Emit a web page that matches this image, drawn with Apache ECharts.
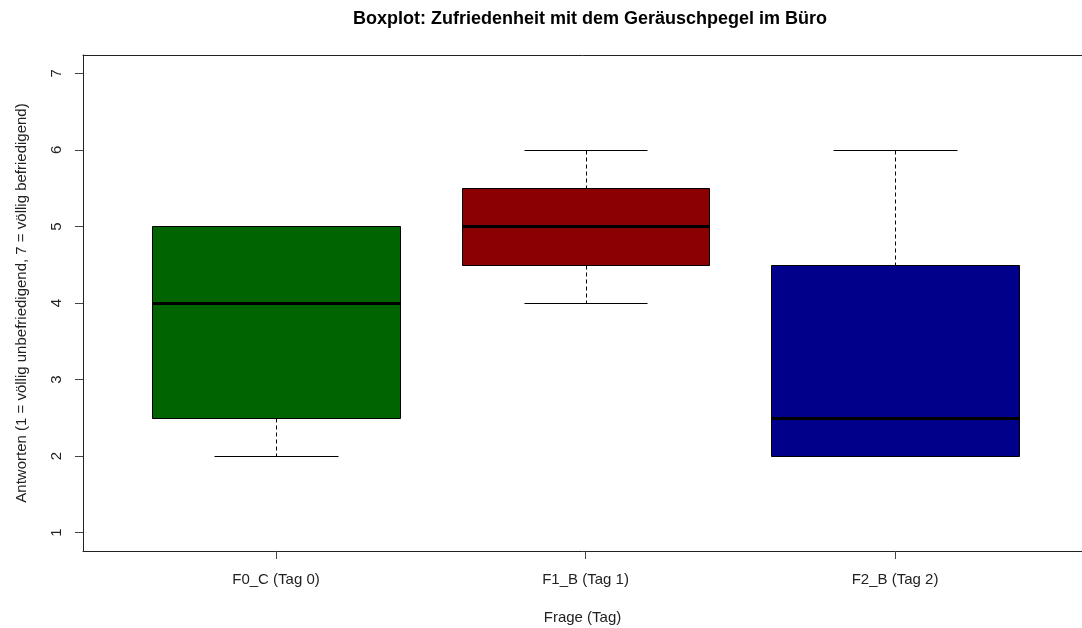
<!DOCTYPE html>
<html>
<head>
<meta charset="utf-8">
<script src="https://cdn.jsdelivr.net/npm/echarts@6/dist/echarts.min.js"></script>
<style>
  html, body { margin: 0; padding: 0; background: #fff; overflow: hidden; }
  #chart { width: 1082px; height: 628px; }
</style>
</head>
<body>
<div id="chart"></div>
<script>
// Five-number summaries per question (scale 1..7)
const categories = ['F0_C (Tag 0)', 'F1_B (Tag 1)', 'F2_B (Tag 2)'];
const minValues  = [2, 4, 2];
const q1Values   = [2.5, 4.5, 2];
const medians    = [4, 5, 2.5];
const q3Values   = [5, 5.5, 4.5];
const maxValues  = [5, 6, 6];
const yTicks     = [1, 2, 3, 4, 5, 6, 7];
const xTicks     = [1, 2, 3];

const boxColors = ['#006400', '#8B0000', '#00008B'];
const FONT = '"Liberation Sans", Arial, sans-serif';
const FRAME = '#222';

const boxData = categories.map((c, i) => [i + 1, minValues[i], q1Values[i], medians[i], q3Values[i], maxValues[i], i]);

// Box, dashed whiskers, staples and thick median for one group
function renderBox(params, api) {
  const x = api.value(0);
  const lo = api.value(1), q1 = api.value(2), med = api.value(3), q3 = api.value(4), hi = api.value(5);
  const color = boxColors[api.value(6)];
  const halfBox = 0.4, halfStaple = 0.2;
  const r = v => Math.round(v) + 0.5;

  const xL = r(api.coord([x - halfBox, 0])[0]);
  const xR = r(api.coord([x + halfBox, 0])[0]);
  const cx = r(api.coord([x, 0])[0]);
  const sL = r(api.coord([x - halfStaple, 0])[0]);
  const sR = r(api.coord([x + halfStaple, 0])[0]);
  const yLo = r(api.coord([x, lo])[1]);
  const yQ1 = r(api.coord([x, q1])[1]);
  const yMed = r(api.coord([x, med])[1]);
  const yQ3 = r(api.coord([x, q3])[1]);
  const yHi = r(api.coord([x, hi])[1]);

  const dash = { stroke: '#000', lineWidth: 1, lineDash: [4, 3] };
  const solid = { stroke: '#000', lineWidth: 1 };

  return {
    type: 'group',
    children: [
      { type: 'line', shape: { x1: cx, y1: yHi, x2: cx, y2: yQ3 }, style: dash },
      { type: 'line', shape: { x1: cx, y1: yQ1, x2: cx, y2: yLo }, style: dash },
      { type: 'line', shape: { x1: sL, y1: yHi, x2: sR, y2: yHi }, style: solid },
      { type: 'line', shape: { x1: sL, y1: yLo, x2: sR, y2: yLo }, style: solid },
      { type: 'rect', shape: { x: xL, y: yQ3, width: xR - xL, height: yQ1 - yQ3 },
        style: { fill: color, stroke: '#000', lineWidth: 1 } },
      { type: 'line', shape: { x1: xL, y1: yMed, x2: xR, y2: yMed },
        style: { stroke: '#000', lineWidth: 3 } }
    ]
  };
}

const X_MIN = 0.3764, X_MAX = 3.604;

const chart = echarts.init(document.getElementById('chart'), null, { renderer: 'canvas' });
chart.setOption({
  animation: false,
  backgroundColor: '#fff',
  title: {
    text: 'Boxplot: Zufriedenheit mit dem Geräuschpegel im Büro',
    left: 585,
    top: 5,
    textAlign: 'center',
    textStyle: { fontFamily: FONT, fontSize: 18, fontWeight: 'bold', color: '#000' }
  },
  grid: { left: 83, right: 0, top: 55, bottom: 77, show: false, containLabel: false, outerBoundsMode: 'none' },
  xAxis: [{
    type: 'value',
    min: X_MIN, max: X_MAX,
    position: 'bottom',
    name: 'Frage (Tag)',
    nameLocation: 'middle',
    nameGap: 59,
    nameTextStyle: { fontFamily: FONT, fontSize: 15, color: '#222' },
    axisLine: { show: true, onZero: false, lineStyle: { color: FRAME, width: 1 } },
    splitLine: { show: false },
    axisTick: { show: true, customValues: xTicks, length: 8, lineStyle: { color: '#444' } },
    axisLabel: {
      customValues: xTicks,
      formatter: v => categories[Math.round(v) - 1],
      margin: 21,
      fontFamily: FONT, fontSize: 15, color: '#222'
    }
  }, {
    // top edge of the plot frame
    type: 'value',
    min: X_MIN, max: X_MAX,
    position: 'top',
    axisLine: { show: true, onZero: false, lineStyle: { color: FRAME, width: 1 } },
    axisTick: { show: false },
    axisLabel: { show: false },
    splitLine: { show: false }
  }],
  yAxis: {
    type: 'value',
    min: 0.76, max: 7.24,
    name: 'Antworten (1 = völlig unbefriedigend, 7 = völlig befriedigend)',
    nameLocation: 'middle',
    nameGap: 54,
    nameTextStyle: { fontFamily: FONT, fontSize: 15, color: '#222' },
    axisLine: { show: true, onZero: false, lineStyle: { color: FRAME, width: 1 } },
    splitLine: { show: false },
    axisTick: { show: true, customValues: yTicks, length: 8, lineStyle: { color: '#444' } },
    axisLabel: {
      customValues: yTicks,
      rotate: 90,
      margin: 19,
      fontFamily: FONT, fontSize: 15, color: '#222'
    }
  },
  series: [{
    type: 'custom',
    renderItem: renderBox,
    data: boxData,
    xAxisIndex: 0,
    encode: { x: 0, y: [1, 2, 3, 4, 5] },
    clip: false
  }]
});
</script>
</body>
</html>
